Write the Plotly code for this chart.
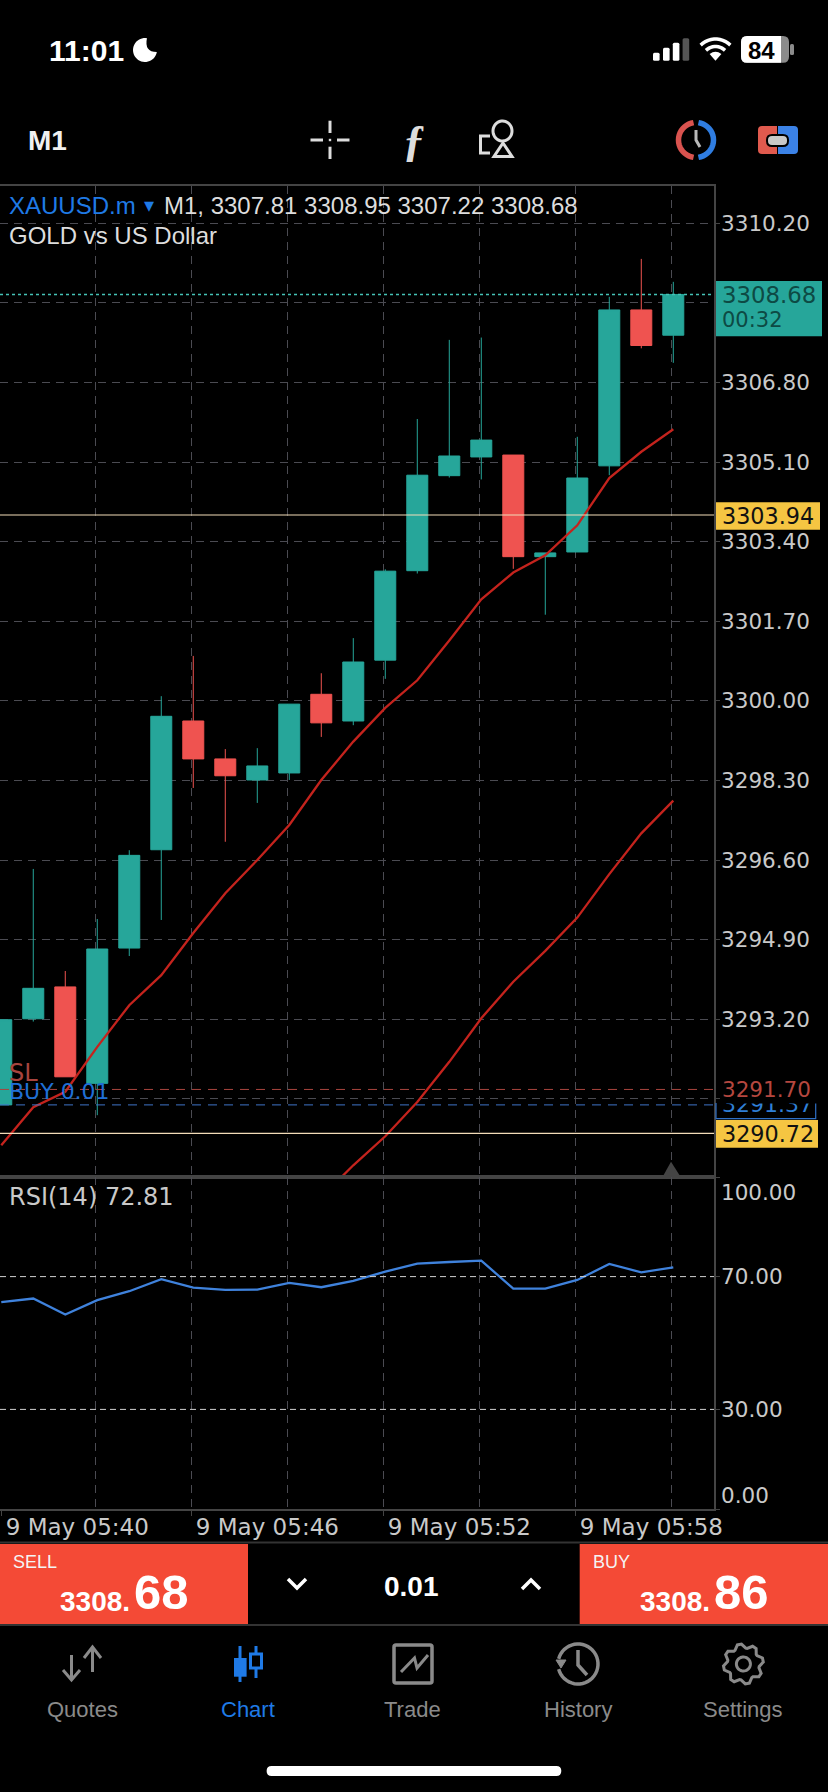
#!/usr/bin/env python3
# MT5 style phone screenshot: gold M1 candles with two moving averages and RSI
import math
import plotly.graph_objects as go
from plotly.subplots import make_subplots

# Data
minutes = list(range(22))  # bar number, 0 = 05:40
opens = [3291.37, 3293.21, 3293.89, 3291.83, 3294.72, 3296.82, 3299.57, 3298.76, 3298.31, 3298.46, 3300.14,
         3299.57, 3300.87, 3302.78, 3304.81, 3305.21, 3305.25, 3303.08, 3303.18, 3305.02, 3308.35, 3307.81]
highs = [3293.19, 3296.41, 3294.23, 3295.34, 3296.81, 3300.10, 3300.96, 3298.97, 3298.99, 3299.93, 3300.59,
         3301.34, 3302.81, 3306.02, 3307.71, 3307.76, 3305.25, 3303.16, 3305.64, 3308.63, 3309.44, 3308.95]
lows = [3291.37, 3293.15, 3291.97, 3291.15, 3294.55, 3295.32, 3298.14, 3296.99, 3297.82, 3298.31, 3299.23,
        3299.48, 3300.47, 3302.72, 3304.77, 3304.73, 3302.82, 3301.84, 3303.18, 3304.82, 3307.53, 3307.22]
closes = [3293.19, 3293.86, 3291.97, 3294.70, 3296.70, 3299.67, 3298.76, 3298.40, 3298.61, 3299.93, 3299.53,
          3300.83, 3302.77, 3304.82, 3305.23, 3305.57, 3303.08, 3303.16, 3304.76, 3308.35, 3307.59, 3308.68]
ma_fast = [3290.51, 3291.32, 3291.65, 3292.61, 3293.50, 3294.14, 3295.04, 3295.89, 3296.60, 3297.35, 3298.31,
           3299.13, 3299.85, 3300.44, 3301.29, 3302.17, 3302.74, 3303.11, 3303.75, 3304.76, 3305.32, 3305.80]
ma_slow = [None, None, None, None, None, None, None, None, None, None, 3289.40,
           3290.08, 3290.70, 3291.43, 3292.29, 3293.22, 3294.00, 3294.66, 3295.37, 3296.30, 3297.17, 3297.87]
rsi = [62.3, 63.4, 58.6, 62.9, 65.6, 69.2, 66.7, 66.0, 66.1, 68.1, 66.8,
       68.7, 71.5, 73.9, 74.4, 74.8, 66.4, 66.4, 69.0, 73.8, 71.3, 72.81]

price_ticks = [3310.20, 3308.50, 3306.80, 3305.10, 3303.40, 3301.70, 3300.00, 3298.30, 3296.60, 3294.90, 3293.20, 3291.50]
price_labels = ['3310.20', '', '3306.80', '3305.10', '3303.40', '3301.70', '3300.00', '3298.30', '3296.60', '3294.90', '3293.20', '']
rsi_ticks = [100, 70, 30, 0]
rsi_labels = ['', '70.00', '30.00', '']
time_ticks = [0, 6, 12, 18]
time_labels = ['9 May 05:40', '9 May 05:46', '9 May 05:52', '9 May 05:58']

current_price = 3308.68
pending_lines = [3303.97, 3290.76]  # the two tan levels
stop_loss = 3291.70
buy_price = 3291.37

# Colours
UP = '#26a69a'
DOWN = '#ef5350'
GRID = '#4b4b52'
BORDER = '#444444'
LABEL = '#c9c9c9'
MA_RED = '#c4231d'
BLUE = '#1f7ae6'
ORDER_RED = '#f44a36'
NAV_GREY = '#8a8a8a'
W, H = 828, 1792
GRID_SHIFT = -0.06  # grid sits a pixel or two left of the candle centres

fig = make_subplots(rows=2, cols=1, shared_xaxes=False)

fig.add_trace(go.Candlestick(
    x=minutes, open=opens, high=highs, low=lows, close=closes,
    increasing=dict(line=dict(color=UP, width=1), fillcolor=UP),
    decreasing=dict(line=dict(color=DOWN, width=1), fillcolor=DOWN),
), row=1, col=1)
fig.add_trace(go.Scatter(x=minutes, y=ma_fast, mode='lines', line=dict(color=MA_RED, width=2.3)), row=1, col=1)
fig.add_trace(go.Scatter(x=minutes, y=ma_slow, mode='lines', line=dict(color=MA_RED, width=2.3)), row=1, col=1)
fig.add_trace(go.Scatter(x=minutes, y=rsi, mode='lines', line=dict(color='#3f82dc', width=2.3)), row=2, col=1)

# Overlay axes in screen pixels, for the phone chrome around the chart
fig.add_trace(go.Scatter(x=[], y=[], xaxis='x3', yaxis='y3'))

# Price levels
fig.add_hline(y=current_price, row=1, col=1, line=dict(color='#45c2b6', width=1.5, dash='3px,3px'))
for level in pending_lines:
    fig.add_hline(y=level, row=1, col=1, line=dict(color='#f2dcb8', width=1.2))
fig.add_hline(y=stop_loss, row=1, col=1, line=dict(color='#a8443e', width=1, dash='9px,7px'))
fig.add_hline(y=buy_price, row=1, col=1, line=dict(color='#3f74c8', width=1, dash='9px,7px'))
fig.add_hline(y=70, row=2, col=1, line=dict(color='#d0d0d0', width=1, dash='6px,4px'))
fig.add_hline(y=30, row=2, col=1, line=dict(color='#d0d0d0', width=1, dash='6px,4px'))

all_grid = [m + GRID_SHIFT for m in minutes if m % 3 == 0 and m > 0]
label_ticks = [t + GRID_SHIFT if t > 0 else t for t in time_ticks]  # first one has to stay inside the range
x_range = [-0.04, 22.272]
tick_font = dict(family='DejaVu Sans', size=21.5, color=LABEL)

fig.update_xaxes(
    range=x_range, domain=[0, 714 / W], showline=True, linecolor=BORDER, linewidth=1.5, mirror=True,
    zeroline=False, rangeslider_visible=False,
)
fig.update_xaxes(tickmode='array', tickvals=all_grid, showticklabels=False, ticks='',
                 showgrid=True, gridcolor=GRID, griddash='8px,6px', gridwidth=1, row=1, col=1)
fig.update_xaxes(
    tickmode='array', tickvals=label_ticks, ticktext=time_labels,
    ticks='outside', ticklen=5, tickcolor=BORDER, ticklabelshift=76, ticklabelstandoff=-8, ticklabeloverflow='allow',
    tickfont=dict(family='DejaVu Sans', size=23, color=LABEL),
    showgrid=False,  # the grid comes from the minor ticks, nothing should land on the left border
    minor=dict(tickmode='array', tickvals=all_grid, showgrid=True, gridcolor=GRID, griddash='8px,6px', ticks=''),
    row=2, col=1,
)
fig.update_yaxes(
    side='right', range=[3289.83, 3310.997], domain=[(H - 1177) / H, (H - 186) / H],
    tickmode='array', tickvals=price_ticks, ticktext=price_labels, tickfont=tick_font,
    ticks='outside', ticklen=4, tickcolor=BORDER, ticklabelstandoff=-3, showgrid=True, gridcolor=GRID, griddash='8px,6px',
    showline=True, linecolor=BORDER, linewidth=1.5, mirror=True, zeroline=False, row=1, col=1,
)
fig.update_yaxes(
    side='right', range=[0, 100], domain=[(H - 1509) / H, (H - 1177) / H],
    tickmode='array', tickvals=rsi_ticks, ticktext=rsi_labels, tickfont=tick_font,
    ticks='outside', ticklen=4, tickcolor=BORDER, ticklabelstandoff=-3, showgrid=False,
    showline=True, linecolor=BORDER, linewidth=1.5, mirror=True, zeroline=False, row=2, col=1,
)

shapes = []
notes = []


def text(x, y, s, size, color, anchor='left', family='Liberation Sans', **kw):
    notes.append(dict(x=x, y=y, xref='x3', yref='y3', text=s, showarrow=False, xanchor=anchor, yanchor='middle',
                      font=dict(family=family, size=size, color=color), borderpad=0, **kw))


def rect(x0, y0, x1, y1, fill, line=None):
    shapes.append(dict(type='rect', xref='x3', yref='y3', x0=x0, y0=y0, x1=x1, y1=y1, fillcolor=fill,
                       line=dict(width=0) if line is None else line))


def path(d, color=None, width=0, fill=None):
    shapes.append(dict(type='path', xref='x3', yref='y3', path=d, fillcolor=fill,
                       line=dict(color=color, width=width)))


def arc(cx, cy, r, a0, a1, start=True, rx=None):
    # polyline arc, plotly paths have no A command; angles in degrees, y down
    n = max(8, int(abs(a1 - a0) / 8))
    pts = []
    for i in range(n + 1):
        a = math.radians(a0 + (a1 - a0) * i / n)
        pts.append(f'{cx + (rx or r) * math.cos(a):.2f},{cy + r * math.sin(a):.2f}')
    return ('M' if start else 'L') + ' L'.join(pts)


def round_rect(x0, y0, x1, y1, r):
    return (f'M{x0 + r},{y0} L{x1 - r},{y0} Q{x1},{y0} {x1},{y0 + r} L{x1},{y1 - r} Q{x1},{y1} {x1 - r},{y1} '
            f'L{x0 + r},{y1} Q{x0},{y1} {x0},{y1 - r} L{x0},{y0 + r} Q{x0},{y0} {x0 + r},{y0} Z')


# Status bar
text(48, 50, '<b>11:01</b>', 30, 'white')
path(arc(145, 50, 12, -80, -350) + ' Q144,52 147,38 Z', fill='white')
for bx, top, col in [(653, 52.7, 'white'), (663, 47.7, 'white'), (672.8, 42.7, 'white'), (682.6, 38.3, '#555555')]:
    path(round_rect(bx, top, bx + 6.6, 60.7, 1.5), fill=col)
path(arc(715.5, 60, 21, -135, -45), color='white', width=3.6)
path(arc(715.5, 60, 13.5, -135, -45), color='white', width=3.6)
path('M715.5,60.8 L709.6,54 Q715.5,49.6 721.4,54 Z', fill='white')
path(round_rect(741, 36, 789, 62.7, 6), fill='#8b8b8b')
path('M741,42 Q741,36 747,36 L781,36 L781,62.7 L747,62.7 Q741,62.7 741,56.7 Z', fill='white')
path(round_rect(790, 44, 794, 55, 1.5), fill='#8b8b8b')
text(761, 50, '<b>84</b>', 24, 'black', anchor='center')

# Toolbar
text(27, 140, '<b>M1</b>', 28, '#f0f0f0')
for d in ['M310.5,140 L323,140', 'M337,140 L349.5,140', 'M330,120.7 L330,133', 'M330,146.7 L330,159']:
    path(d, color='#dddddd', width=3)
rect(328.8, 138.8, 331.2, 141.2, '#dddddd')
text(414, 140, '<b><i>ƒ</i></b>', 44, '#dddddd', anchor='center', family='Liberation Serif')
path('M490,136 L480.5,136 L480.5,153 L490,153', color='#dddddd', width=3)
path(arc(502.5, 131, 10, 0, 360, rx=9.5), color='#dddddd', width=3)
path('M503,143 L512,156.5 L494,156.5 Z', color='#dddddd', width=3)
path(arc(696, 140, 17.5, 98, 262), color='#d9534f', width=5.5)
path(arc(696, 140, 17.5, -82, 82), color='#2f7de1', width=5.5)
path('M696,130 L696,140 L700,147', color='#b9b9b9', width=3)
path('M762,126 L777,126 L777,154 L762,154 Q758,154 758,150 L758,130 Q758,126 762,126 Z', fill='#e05a4e')
path('M778,126 L794,126 Q798,126 798,130 L798,150 Q798,154 794,154 L778,154 Z', fill='#3b82e6')
path(round_rect(767, 135, 788, 146, 5), color='black', width=2, fill='#c9c9c9')

# Chart legends
text(8, 205, 'XAUUSD.m', 24, BLUE)
text(143, 205, '▾', 20, BLUE)
text(163, 205, 'M1, 3307.81 3308.95 3307.22 3308.68', 24, '#dddddd')
text(8, 235, 'GOLD vs US Dollar', 24, '#dddddd')
text(8, 1073, 'SL', 24, '#a8443e', family='DejaVu Sans')
text(8, 1091, 'BUY 0.01', 22, '#1f6fd6', family='DejaVu Sans')
text(8, 1197, 'RSI(14) 72.81', 24, LABEL, family='DejaVu Sans')

# Price tags on the right hand side
rect(716, 281, 822, 336.3, UP)
text(721, 295, '3308.68', 22.8, '#0d4a44', family='DejaVu Sans')
text(721, 320, '00:32', 21, '#0d4a44', family='DejaVu Sans')
rect(716, 502.3, 820, 529.7, '#f5c542')
text(721, 516, '3303.94', 22.3, '#111111', family='DejaVu Sans')
path('M716,1103 L716,1118.7 L815.7,1118.7 L815.7,1103', color='#2f6fc4', width=1.2)
text(721, 1104.7, '3291.37', 22, '#2f7fd6', family='DejaVu Sans')
text(721, 1089, '3291.70', 21.5, '#b5473f', family='DejaVu Sans', bgcolor='black', height=28, width=100, align='left')
rect(716, 1120, 818, 1147.7, '#f5c542')
text(721, 1133.5, '3290.72', 22.3, '#111111', family='DejaVu Sans')
path('M671,1161.7 L680.7,1177 L662.5,1177 Z', fill='#444444')
text(720, 1192, '100.00', 21.5, LABEL, family='DejaVu Sans')
text(720, 1495, '0.00', 21.5, LABEL, family='DejaVu Sans')

# Order bar
shapes.append(dict(type='line', xref='x3', yref='y3', x0=0, x1=W, y0=1542.5, y1=1542.5, line=dict(color='#333333', width=2)))
shapes.append(dict(type='line', xref='x3', yref='y3', x0=0, x1=W, y0=1625, y1=1625, line=dict(color='#333333', width=2)))
rect(0, 1544, 248, 1624, ORDER_RED)
rect(579.7, 1544, W, 1624, ORDER_RED)
text(12, 1562, 'SELL', 18, '#f4f4f4')
text(592, 1562, 'BUY', 18, '#f4f4f4')
text(131, 1601, '<b>3308.</b>', 28, 'white', anchor='right')
text(133, 1592, '<b>68</b>', 49, 'white')
text(711, 1601, '<b>3308.</b>', 28, 'white', anchor='right')
text(713, 1592, '<b>86</b>', 49, 'white')
text(411, 1586, '<b>0.01</b>', 28, 'white', anchor='center')
path('M288,1579 L297,1588 L306,1579', color='white', width=3.5)
path('M522,1589 L531,1580 L540,1589', color='white', width=3.5)

# Bottom navigation
for cx, name, col in [(82, 'Quotes', NAV_GREY), (248, 'Chart', BLUE), (412.4, 'Trade', NAV_GREY),
                      (578, 'History', NAV_GREY), (743.4, 'Settings', NAV_GREY)]:
    text(cx, 1709, name, 22, col, anchor='center')
path('M71.5,1655 L71.5,1680 M63,1670 L71.5,1680 L80,1670', color=NAV_GREY, width=3)
path('M92.5,1672 L92.5,1647 M84,1658 L92.5,1647 L101,1658', color=NAV_GREY, width=3)
path('M240,1646 L240,1682', color=BLUE, width=3)
rect(234, 1658, 246.6, 1676.7, BLUE)
path('M256,1646 L256,1678', color=BLUE, width=3)
rect(250.5, 1654, 261.5, 1668, 'black', line=dict(color=BLUE, width=3))
path(round_rect(394, 1645, 432, 1683, 2), color=NAV_GREY, width=3.5)
path('M401,1672 L414.5,1658 L417,1668 L428,1655', color=NAV_GREY, width=3)
path(arc(578, 1664, 20, -165, 165), color=NAV_GREY, width=3.5)
path('M556,1660 L566,1660 L561,1668 Z', fill=NAV_GREY, color=NAV_GREY, width=1)
path('M578,1650 L578,1665 L587,1675', color=NAV_GREY, width=3.5)
gear = []
for k in range(8):
    base = k * 45 - 22.5
    for ang, rad in [(base - 9, 16), (base + 5, 20), (base + 17, 20), (base + 31, 16)]:
        a = math.radians(ang)
        gear.append(f'{743.4 + rad * math.cos(a):.2f},{1664 + rad * math.sin(a):.2f}')
path('M' + ' L'.join(gear) + ' Z', color=NAV_GREY, width=3)
path(arc(743.4, 1664, 7, 0, 360), color=NAV_GREY, width=3)
path(round_rect(266.6, 1766, 561.3, 1776, 5), fill='white')

fig.update_layout(
    width=W, height=H, margin=dict(l=0, r=0, t=0, b=0, autoexpand=False), paper_bgcolor='black',
    plot_bgcolor='rgba(0,0,0,0)',  # the pixel overlay sits on top, keep it see-through
    showlegend=False, hovermode=False, boxgap=0.344, boxgroupgap=0,
    xaxis3=dict(domain=[0, 1], range=[0, W], visible=False, anchor='y3', fixedrange=True),
    yaxis3=dict(domain=[0, 1], range=[H, 0], visible=False, anchor='x3', fixedrange=True),
    annotations=notes,
)
for s in shapes:
    fig.add_shape(**s)

fig.write_html('out.html', config={'displayModeBar': False},
               post_script="document.body.style.margin='0';document.body.style.overflow='hidden';")
